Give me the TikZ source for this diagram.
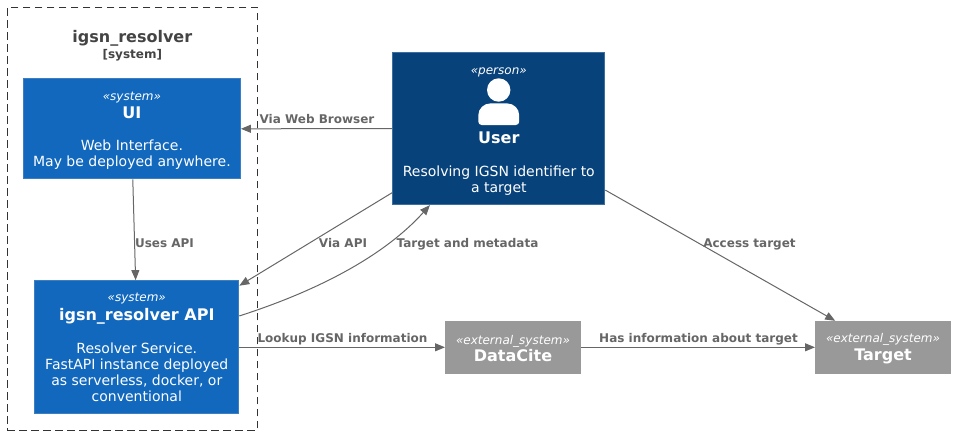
\documentclass[tikz,border=0pt]{standalone}
\usepackage{fontspec}
\setmainfont{DejaVu Sans}
\usepackage{xcolor}
\usetikzlibrary{arrows.meta}
\definecolor{sysblue}{RGB}{17,104,189}
\definecolor{sysedge}{RGB}{60,127,192}
\definecolor{persblue}{RGB}{8,66,123}
\definecolor{persedge}{RGB}{60,110,160}
\definecolor{extgray}{RGB}{153,153,153}
\definecolor{linegray}{RGB}{102,102,102}
\definecolor{titlegray}{RGB}{68,68,68}
\newcommand{\stereo}[2]{\rule{0pt}{#1}{\fontsize{9}{11}\itshape\selectfont «#2»}}
\newcommand{\boxname}[1]{{\fontsize{12}{14}\bfseries\selectfont #1}}

\tikzset{
  box/.style={rectangle, text=white, align=center, inner sep=0pt, line width=0.75pt,
    font=\fontsize{10.5}{12}\selectfont},
  sysbox/.style={box, fill=sysblue, draw=sysedge},
  persbox/.style={box, fill=persblue, draw=persedge},
  extbox/.style={box, fill=extgray, draw=extgray},
  rel/.style={draw=linegray, line width=0.75pt, -{Triangle[length=7.5pt,width=6pt]}},
  rellabel/.style={text=linegray, inner sep=0pt, text height=7pt, text depth=2pt, font=\fontsize{9}{11}\bfseries\selectfont}
}

\begin{document}
\begin{tikzpicture}[x=0.75pt, y=-0.75pt]
\useasboundingbox (0,0) rectangle (963,443);

% container
\node[draw=black!80, dash pattern=on 5.5pt off 3.5pt, line width=0.75pt, minimum width=187.5pt, minimum height=317.25pt, inner sep=0pt] (sysframe) at (132.3,218.8) {};
\node[text=titlegray, inner sep=0pt, font=\fontsize{12}{14}\bfseries\selectfont] (frametitle) at (132.3,38.5) {igsn\_resolver};
\node[text=titlegray, inner sep=0pt, font=\fontsize{9}{11}\bfseries\selectfont] (frametype) at (132.3,55) {[system]};

% boxes
\node[sysbox, minimum width=162.75pt, minimum height=75pt] (ui) at (131.9,128.8)
  {\stereo{8.5pt}{system}\\[2pt]\boxname{UI}\\[11.5pt]Web Interface.\\May be deployed anywhere.};
\node[sysbox, minimum width=153pt, minimum height=100pt] (api) at (136.8,347.3)
  {\stereo{0pt}{system}\\[2pt]\boxname{igsn\_resolver API}\\[13pt]Resolver Service.\\FastAPI instance deployed\\as serverless, docker, or\\conventional};
\node[persbox, minimum width=159pt, minimum height=114pt] (user) at (498.8,128.6)
  {\stereo{10pt}{person}\\[40pt]\boxname{User}\\[12.75pt]Resolving IGSN identifier to\\a target};
\node[extbox, minimum width=101.25pt, minimum height=39pt] (datacite) at (513,347.3)
  {\stereo{9pt}{external\_system}\\[1pt]\boxname{DataCite}};
\node[extbox, minimum width=101.25pt, minimum height=39pt] (target) at (883,347.3)
  {\stereo{9pt}{external\_system}\\[1pt]\boxname{Target}};

% person icon
\fill[white] (498.7,90) circle (11.7);
\fill[white] (498.7,125) [rounded corners=2.5pt] -- (478.3,125) [rounded corners=9pt] -- (478.3,103.4) -- (519.2,103.4) [rounded corners=2.5pt] -- (519.2,125) -- cycle;

% connectors
\draw[rel] (user.west) -- (ui.east);
\draw[rel] (ui.-89) -- (api.91.7);
\draw[rel] (user.211.6) -- (api.31.2);
\draw[rel] (api.17.3) .. controls (320,290) and (385,255) .. (user.228.6);
\draw[rel] (user.330.8) -- (target.151.8);
\draw[rel] (api.east) -- (datacite.west);
\draw[rel] (datacite.east) -- (target.west);

% connector labels
\node[rellabel] (lbrowser) at (317,120) {Via Web Browser};
\node[rellabel] (luses) at (164.5,244) {Uses API};
\node[rellabel] (lviaapi) at (343,244) {Via API};
\node[rellabel] (lmeta) at (467.5,244) {Target and metadata};
\node[rellabel] (laccess) at (749.5,244) {Access target};
\node[rellabel] (llookup) at (342.5,339) {Lookup IGSN information};
\node[rellabel] (lhas) at (698.5,339) {Has information about target};
\end{tikzpicture}
\end{document}
